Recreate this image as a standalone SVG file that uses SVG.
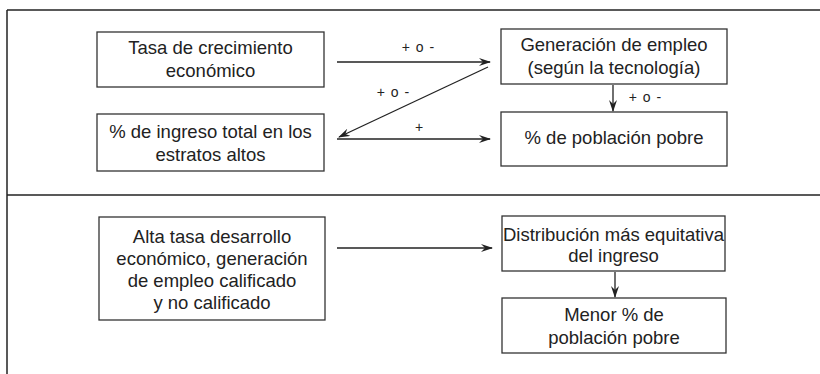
<svg xmlns="http://www.w3.org/2000/svg" width="820" height="374" viewBox="0 0 820 374">
<style>
.frame{stroke:#222;stroke-width:1.5;fill:none}
.box{fill:#fff;stroke:#333;stroke-width:1.3}
.t{font-family:"Liberation Sans","Open Sans",sans-serif;font-size:18.5px;fill:#222;text-anchor:middle}
.lbl{font-family:"Liberation Sans","Open Sans",sans-serif;font-size:14px;fill:#222;text-anchor:middle;word-spacing:2px}
.c{stroke:#222;stroke-width:1.3;fill:none;marker-end:url(#ah)}
</style>
<defs>
<marker id="ah" viewBox="0 0 12 8" refX="11" refY="4" markerWidth="12" markerHeight="8" markerUnits="userSpaceOnUse" orient="auto">
<path d="M0,0 L12,4 L0,8 L4,4 z" fill="#222"/>
</marker>
</defs>
<rect width="820" height="374" fill="#fff"/>
<g id="frame">
<line class="frame" x1="7" y1="10" x2="820" y2="10"/>
<line class="frame" x1="7" y1="10" x2="7" y2="374"/>
<line class="frame" x1="7" y1="195" x2="820" y2="195"/>
</g>
<g id="n1"><rect class="box" x="97" y="32" width="227" height="55"/>
<text class="t" x="210.5" y="54">Tasa de crecimiento</text>
<text class="t" x="210.5" y="77">económico</text></g>
<g id="n2"><rect class="box" x="97" y="114" width="227" height="57"/>
<text class="t" x="210.5" y="138">% de ingreso total en los</text>
<text class="t" x="210.5" y="161">estratos altos</text></g>
<g id="n3"><rect class="box" x="501" y="29" width="226" height="55"/>
<text class="t" x="614" y="51">Generación de empleo</text>
<text class="t" x="614" y="74">(según la tecnología)</text></g>
<g id="n4"><rect class="box" x="501" y="112" width="226" height="54"/>
<text class="t" x="614" y="144">% de población pobre</text></g>
<g id="n5"><rect class="box" x="99" y="217" width="226" height="103"/>
<text class="t" x="212" y="243">Alta tasa desarrollo</text>
<text class="t" x="212" y="265">económico, generación</text>
<text class="t" x="212" y="287">de empleo calificado</text>
<text class="t" x="212" y="309">y no calificado</text></g>
<g id="n6"><rect class="box" x="502" y="216" width="223" height="55"/>
<text class="t" x="613.5" y="241">Distribución más equitativa</text>
<text class="t" x="613.5" y="262">del ingreso</text></g>
<g id="n7"><rect class="box" x="502" y="298" width="224" height="55"/>
<text class="t" x="614" y="321">Menor % de</text>
<text class="t" x="614" y="344">población pobre</text></g>
<g id="connectors">
<line class="c" x1="337" y1="62" x2="490" y2="62"/>
<line class="c" x1="488" y1="67" x2="339" y2="137"/>
<line class="c" x1="337" y1="139" x2="490" y2="139"/>
<line class="c" x1="613" y1="85" x2="613" y2="111"/>
<line class="c" x1="337" y1="248" x2="492" y2="248"/>
<line class="c" x1="615" y1="272" x2="615" y2="297"/>
<text class="lbl" x="418" y="52">+ o -</text>
<text class="lbl" x="393" y="97">+ o -</text>
<text class="lbl" x="419" y="132">+</text>
<text class="lbl" x="645" y="102">+ o -</text>
</g>
</svg>
